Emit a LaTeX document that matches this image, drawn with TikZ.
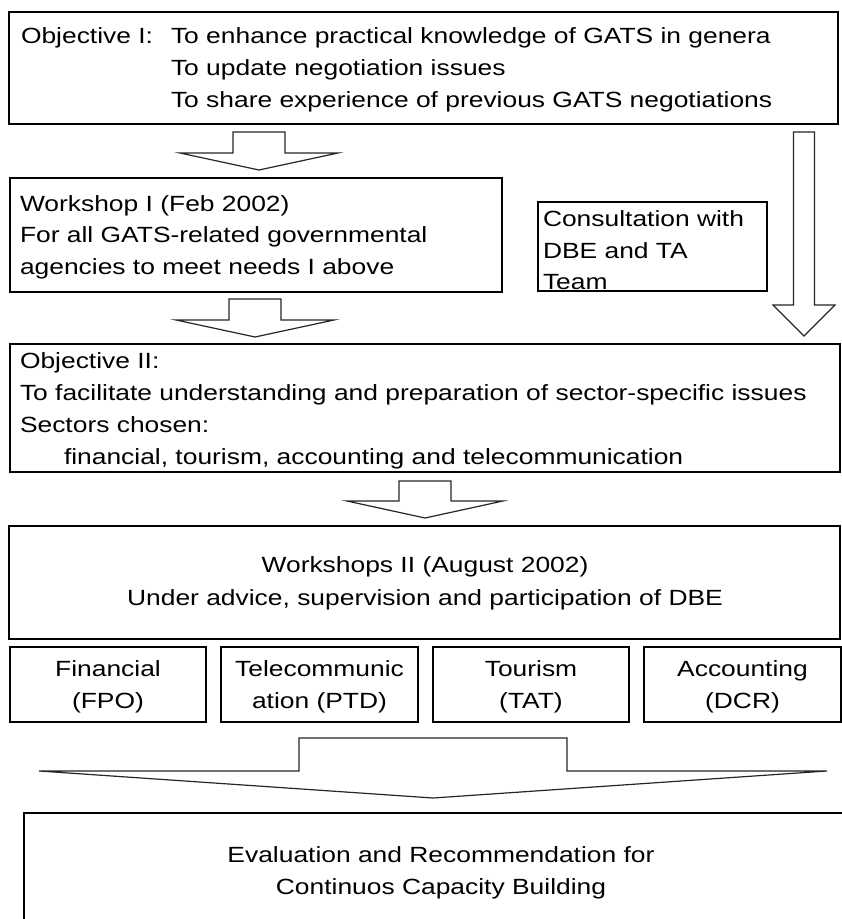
\documentclass[tikz,border=0pt]{standalone}
\usepackage{fontspec}
\setmainfont{Liberation Sans}[FakeStretch=1.2]
\begin{document}
\begin{tikzpicture}[x=1pt,y=-1pt,
  box/.style={draw=black, line width=1.3pt, fill=none, inner sep=0pt, outer sep=0pt, anchor=north west},
  txt/.style={inner sep=0pt, outer sep=0pt, font=\fontsize{22}{32}\selectfont},
  blockarrow/.style={draw=black!85, line width=1.2pt, fill=white, line join=miter}]
\useasboundingbox (0,0) rectangle (842,919);
\clip (0,0) rectangle (842,919);

% rectangular box: name, left, top, right, bottom
\newcommand\stagebox[5]{\node[box, minimum width={#4-#2}, minimum height={#5-#3}] (#1) at (#2,#3) {};}
% hollow down arrow: centre x, shaft top, shaft half width, head half width, head base y, tip y
\newcommand\downblock[6]{\draw[blockarrow] (#1-#3,#2) -- (#1+#3,#2) -- (#1+#3,#5) -- (#1+#4,#5) -- (#1,#6) -- (#1-#4,#5) -- (#1-#3,#5) -- cycle;}

% boxes
\stagebox{objone}{9}{12}{838}{124}
\stagebox{wsone}{10}{178}{502}{292}
\stagebox{consult}{538}{202}{767}{291}
\stagebox{objtwo}{10}{344}{840}{472}
\stagebox{wstwo}{9}{526}{840}{639}
\stagebox{fin}{10}{647}{206}{722}
\stagebox{tel}{221}{647}{418}{722}
\stagebox{tour}{433}{647}{629}{722}
\stagebox{acc}{644}{647}{841}{722}
\stagebox{evalbox}{24}{813}{858}{960}

% hollow arrows between the stages
\downblock{259}{132}{26}{79}{153}{170}
\downblock{255}{299}{26}{79}{320}{337}
\downblock{425}{481}{26}{78}{501}{518}
\downblock{804}{132}{10.5}{31}{305}{336}
\downblock{433}{738}{134}{394}{771}{798}

% Objective I
\node[txt, anchor=base west] (oa) at (21,43) {Objective I:};
\node[txt, anchor=base west] (ob) at (171,43) {To enhance practical knowledge of GATS in genera};
\node[txt, anchor=base west] (oc) at (171,75) {To update negotiation issues};
\node[txt, anchor=base west] (od) at (171,107) {To share experience of previous GATS negotiations};

% Workshop I
\node[txt, anchor=base west] (wa) at (20,211) {Workshop I (Feb 2002)};
\node[txt, anchor=base west] (wb) at (20,242) {For all GATS-related governmental};
\node[txt, anchor=base west] (wc) at (20,274) {agencies to meet needs I above};

% consultation
\node[txt, anchor=base west] (ca) at (543,226) {Consultation with};
\node[txt, anchor=base west] (cb) at (543,258) {DBE and TA};
\node[txt, anchor=base west] (cc) at (543,289) {Team};

% Objective II
\node[txt, anchor=base west] (pa) at (20,368) {Objective II:};
\node[txt, anchor=base west] (pb) at (20,400) {To facilitate understanding and preparation of sector-specific issues};
\node[txt, anchor=base west] (pc) at (20,432) {Sectors chosen:};
\node[txt, anchor=base west] (pd) at (64,464) {financial, tourism, accounting and telecommunication};

% Workshops II
\node[txt, anchor=base] (sa) at (425,572) {Workshops II (August 2002)};
\node[txt, anchor=base] (sb) at (425,605) {Under advice, supervision and participation of DBE};

% sectors
\node[txt, anchor=base] (fa) at (108,676) {Financial};
\node[txt, anchor=base] (fb) at (108,708) {(FPO)};
\node[txt, anchor=base] (ta) at (319.5,676) {Telecommunic};
\node[txt, anchor=base] (tb) at (319.5,708) {ation (PTD)};
\node[txt, anchor=base] (ua) at (531,676) {Tourism};
\node[txt, anchor=base] (ub) at (531,708) {(TAT)};
\node[txt, anchor=base] (aa) at (742.5,676) {Accounting};
\node[txt, anchor=base] (ab) at (742.5,708) {(DCR)};

% evaluation
\node[txt, anchor=base] (ea) at (441,862) {Evaluation and Recommendation for};
\node[txt, anchor=base] (eb) at (441,894) {Continuos Capacity Building};
\end{tikzpicture}
\end{document}
